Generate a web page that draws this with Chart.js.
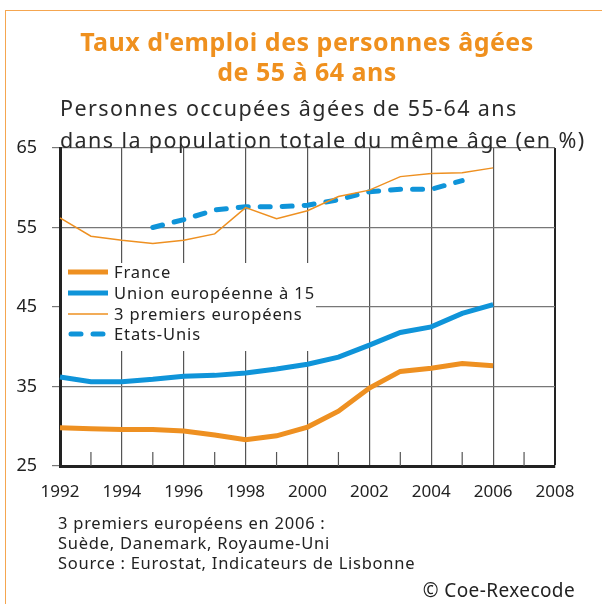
<!DOCTYPE html>
<html>
<head>
<meta charset="utf-8">
<script src="https://cdn.jsdelivr.net/npm/chart.js@4.4.1/dist/chart.umd.min.js"></script>
<style>
  body { margin: 0; background: #fff; }
  #wrap { position: relative; width: 602px; height: 604px; overflow: hidden; font-family: "Noto Sans", Lato, sans-serif; color: #222; }
  #frame { position: absolute; left: 5px; top: 10px; width: 640px; height: 640px; border-left: 1.5px solid #f5a650; border-top: 1.5px solid #f5a650; }
  canvas { position: absolute; left: 0; top: 0; }
  .t { position: absolute; white-space: nowrap; line-height: 1; }
  .title { left: 0; width: 614px; text-align: center; color: #ef901e; font-weight: bold; font-size: 25px; letter-spacing: 0.5px; }
  .sub { left: 60px; font-size: 21.5px; letter-spacing: 1.4px; color: #2a2a2a; }
  .note { left: 58px; font-size: 16.5px; letter-spacing: 0.75px; color: #222; }
</style>
</head>
<body>
<div id="wrap">
  <div id="frame"></div>
  <canvas id="c" width="602" height="604"></canvas>
  <div class="t title" style="top:29px">Taux d'emploi des personnes âgées</div>
  <div class="t title" style="top:59px">de 55 à 64 ans</div>
  <div class="t sub" style="top:97px">Personnes occupées âgées de 55-64 ans</div>
  <div class="t sub" style="top:129px">dans la population totale du même âge (en %)</div>
  <div class="t note" style="top:515px">3 premiers européens en 2006 :</div>
  <div class="t note" style="top:535px">Suède, Danemark, Royaume-Uni</div>
  <div class="t note" style="top:555px">Source : Eurostat, Indicateurs de Lisbonne</div>
  <div class="t" style="top:581px; right:27px; font-size:19px; letter-spacing:0.4px;">© Coe-Rexecode</div>
</div>
<script>
// years on the axis (1992-2008), data runs 1992-2006
var years = ['1992','1993','1994','1995','1996','1997','1998','1999','2000','2001','2002','2003','2004','2005','2006','2007','2008'];
var france = [29.8, 29.7, 29.6, 29.6, 29.4, 28.9, 28.3, 28.8, 29.9, 31.9, 34.8, 36.9, 37.3, 37.9, 37.6];
var ue15 = [36.2, 35.6, 35.6, 35.9, 36.3, 36.4, 36.7, 37.2, 37.8, 38.7, 40.2, 41.8, 42.5, 44.2, 45.3];
var top3 = [56.2, 53.9, 53.4, 53.0, 53.4, 54.2, 57.5, 56.1, 57.1, 58.9, 59.7, 61.4, 61.8, 61.9, 62.5];
var usa = [null, null, null, 55.0, 56.0, 57.2, 57.6, 57.6, 57.8, 58.5, 59.5, 59.8, 59.8, 60.9];
var yTicks = [25, 35, 45, 55, 65];

var orange = '#ee9021';
var blue = '#0f94d9';
var fontFamily = '"Noto Sans", Lato, sans-serif';

// legend drawn inside the plot, on a white box that hides the grid
var legendBox = {
  id: 'legendBox',
  beforeDatasetsDraw: function(chart) {
    var ctx = chart.ctx;
    ctx.save();
    ctx.fillStyle = '#fff';
    ctx.fillRect(62, 263, 254, 88);
    var rowY = [272, 293, 314, 334];
    chart.data.datasets.forEach(function(ds, i) {
      ctx.beginPath();
      ctx.strokeStyle = ds.borderColor;
      ctx.lineWidth = ds.borderWidth;
      ctx.lineCap = ds.borderDash ? 'round' : 'butt';
      ctx.setLineDash(ds.borderDash || []);
      ctx.moveTo(ds.borderDash ? 71 : 68, rowY[i]);
      ctx.lineTo(ds.borderDash ? 106 : 108, rowY[i]);
      ctx.stroke();
      ctx.setLineDash([]);
      ctx.fillStyle = '#222';
      ctx.font = '16.5px ' + fontFamily;
      ctx.letterSpacing = '0.9px';
      ctx.textBaseline = 'middle';
      ctx.fillText(ds.label, 114, rowY[i] + 1);
      ctx.letterSpacing = '0px';
    });
    ctx.restore();
  }
};

// short ticks for odd years along the bottom axis
var minorTicks = {
  id: 'minorTicks',
  afterDraw: function(chart) {
    var ctx = chart.ctx, x = chart.scales.x, a = chart.chartArea;
    ctx.save();
    ctx.strokeStyle = '#555';
    ctx.lineWidth = 1.2;
    for (var i = 1; i < years.length; i += 2) {
      var px = x.getPixelForValue(i);
      ctx.beginPath();
      ctx.moveTo(px, a.bottom);
      ctx.lineTo(px, a.bottom - 14);
      ctx.stroke();
    }
    ctx.restore();
  }
};

new Chart(document.getElementById('c'), {
  type: 'line',
  data: {
    labels: years,
    datasets: [
      { label: 'France', data: france, borderColor: orange, borderWidth: 5 },
      { label: 'Union européenne à 15', data: ue15, borderColor: blue, borderWidth: 5 },
      { label: '3 premiers européens', data: top3, borderColor: orange, borderWidth: 1.5 },
      { label: 'Etats-Unis', data: usa, borderColor: blue, borderWidth: 5, borderDash: [10, 12], borderCapStyle: 'round' }
    ]
  },
  options: {
    responsive: false,
    animation: false,
    layout: { padding: { top: 148, right: 47, left: 0, bottom: 0 } },
    elements: { point: { radius: 0 }, line: { tension: 0 } },
    plugins: { legend: { display: false }, tooltip: { enabled: false } },
    scales: {
      x: {
        type: 'category',
        offset: false,
        afterFit: function(s) { s.height = 138; },
        grid: {
          drawTicks: false,
          color: function(c) {
            if (c.index === years.length - 1) return '#222';
            return c.index % 2 === 0 ? '#555' : 'rgba(0,0,0,0)';
          },
          lineWidth: function(c) { return c.index === years.length - 1 ? 2 : 1.2; }
        },
        border: { color: '#222', width: 3 },
        ticks: {
          autoSkip: false,
          maxRotation: 0,
          padding: 16,
          color: '#222',
          font: { family: fontFamily, size: 17 },
          callback: function(v, i) { return i % 2 === 0 ? years[i] : ''; }
        }
      },
      y: {
        min: 25,
        max: 65,
        afterFit: function(s) { s.width = 60; },
        afterBuildTicks: function(s) { s.ticks = yTicks.map(function(v) { return { value: v }; }); },
        grid: { color: '#777', lineWidth: 1.2, tickLength: 8 },
        border: { color: '#222', width: 3 },
        ticks: {
          padding: 15,
          color: '#222',
          font: { family: fontFamily, size: 18 }
        }
      }
    }
  },
  plugins: [legendBox, minorTicks]
});
</script>
</body>
</html>
